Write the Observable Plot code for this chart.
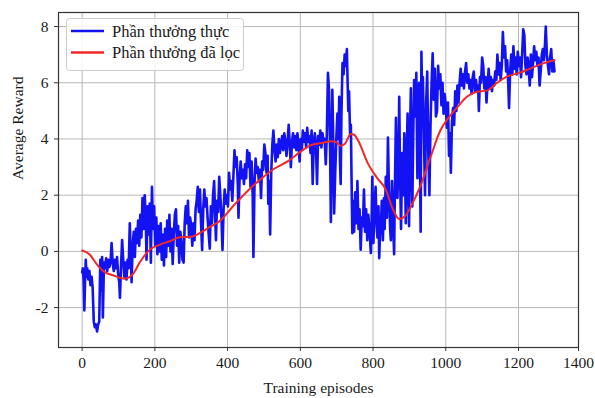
<!DOCTYPE html>
<html>
<head>
<meta charset="utf-8">
<script src="https://cdn.jsdelivr.net/npm/d3@7"></script>
<script src="https://cdn.jsdelivr.net/npm/@observablehq/plot@0.6"></script>
<style>
  html, body { margin: 0; padding: 0; background: white; }
</style>
</head>
<body>
<div id="chart"></div>
<script>
// ---- Data ----
const episodes = [
0,2,4,6,8,10,12,14,17,20,23,26,29,32,35,38,41,44,47,50,53,55,57,60,63,66,69,72,75,78,81,84,87,90,93,96,99,102,104,107,110,113,116,119,122,125,128,131,134,136,139,142,145,148,151,
154,157,160,163,166,169,172,175,177,180,183,186,189,192,195,198,201,204,207,210,213,216,219,222,225,228,231,234,237,240,243,246,249,252,255,258,261,264,267,270,
273,276,279,282,285,288,291,294,297,300,303,306,309,312,315,318,321,324,327,330,333,336,339,342,345,348,351,354,357,360,363,366,368,371,374,377,380,383,386,389,392,395,398,401,
404,407,410,413,416,419,422,425,428,430,433,436,439,442,445,448,451,454,457,460,463,466,469,471,474,477,480,483,486,489,492,495,498,501,504,507,510,512,515,517,520,523,526,529,532,535,538,541,544,547,550,553,556,559,562,565,568,571,574,577,580,583,586,589,592,595,598,601,
604,607,610,613,616,619,622,625,628,631,634,637,640,643,646,649,652,655,658,661,664,667,670,673,676,679,682,684,686,688,690,693,696,699,702,705,707,709,711,713,716,719,722,725,728,730,732,734,737,739,741,743,745,748,751,754,757,760,763,766,769,772,775,778,781,784,787,790,794,796,798,801,804,807,810,812,815,817,819,821,824,827,830,832,835,838,841,844,847,849,852,855,858,860,863,865,867,870,872,874,877,880,883,886,888,890,893,895,897,899,902,904,906,908,911,913,916,919,922,925,927,929,931,933,935,937,940,943,946,949,952,955,958,961,964,967,970,973,976,979,982,985,988,991,994,997,1000,
1003,1006,1009,1012,1014,1017,1020,1023,1026,1029,1032,1035,1038,1041,1044,1047,1050,1053,1056,1059,1062,1065,1068,1071,1074,1077,1080,1083,1086,1089,1091,1094,1097,1100,1103,1106,1109,1112,1115,1118,1121,1124,1127,1130,1133,1136,1139,1142,1145,1148,1151,1154,1157,1160,1163,1166,1169,1172,1174,1177,1180,1183,1186,1189,1192,1195,1198,1201,1204,1207,1210,1213,1216,1219,1222,1225,1228,1231,1234,1237,1240,1243,1246,1249,1252,1255,1258,1261,1264,1267,1270,1273,1275,1278,1281,1284,1287,1290,1293,1296,1299
];
const reward = [
-0.75,-0.6,-1.0,-2.1,-1.1,-0.3,-0.9,-0.6,-1.0,-0.7,-1.2,-0.9,-1.3,-2.5,-2.7,-2.6,-2.85,-2.6,-2.5,-0.3,-1.4,-0.2,-2.35,-0.4,-0.6,-0.25,-0.7,-0.3,-0.55,-0.4,0.3,-0.4,-0.7,-0.3,-0.6,-0.2,-0.8,-1.1,-1.65,-0.5,0.4,-0.3,-0.9,-0.4,-1.0,-0.3,-0.6,1.0,-0.2,-1.1,0.2,0.7,-0.2,0.8,0.3,
1.1,0.2,1.3,0.5,1.9,0.8,2.0,1.2,-0.3,1.6,0.6,1.7,-0.4,2.3,0.8,1.6,0.2,1.2,-0.1,0.9,0.0,1.0,-0.3,0.6,-0.5,0.8,-0.2,1.1,0.2,1.3,0.0,0.8,-0.45,0.6,1.3,1.5,0.2,0.9,-0.4,0.7,
0.4,-0.3,-0.4,1.0,1.6,1.0,1.8,0.5,1.2,0.9,0.2,1.0,0.4,1.5,1.8,2.3,1.4,2.2,1.0,0.05,1.5,2.2,1.6,1.9,1.2,0.6,0.1,1.6,1.0,2.0,2.5,1.2,0.4,1.8,1.4,2.65,2.0,1.2,0.05,1.5,2.2,1.7,2.0,1.6,
2.8,2.2,2.5,1.8,2.7,3.6,3.0,3.35,2.4,1.2,2.6,3.2,2.6,2.9,2.4,3.1,2.6,3.6,3.0,3.5,2.3,3.2,2.0,-0.2,2.4,3.3,2.8,3.0,2.5,2.9,1.9,3.2,2.9,3.8,3.5,2.8,3.4,1.7,2.5,0.6,2.8,3.8,4.3,3.6,3.2,3.8,3.35,4.0,3.5,3.8,4.1,3.6,4.2,3.9,3.4,3.9,4.5,3.8,3.0,3.9,4.2,3.7,4.1,3.6,4.2,3.8,3.2,4.0,
3.6,4.3,3.9,4.2,3.7,4.4,3.9,4.1,3.5,4.3,2.4,3.9,4.2,3.7,2.4,4.1,3.8,4.3,3.7,4.2,3.9,4.0,3.1,4.2,6.35,5.7,3.5,1.05,3.0,5.75,4.4,1.35,2.8,4.0,4.9,4.0,5.5,3.2,2.4,4.8,6.7,6.3,7.0,6.6,7.2,6.05,5.0,5.7,4.1,4.5,2.5,0.65,1.8,0.7,2.1,1.0,2.5,0.8,1.5,0.06,1.2,0.9,2.2,0.7,1.5,0.4,1.3,0.8,-0.06,1.0,2.65,0.3,1.6,2.3,0.9,0.5,1.6,-0.24,0.6,0.65,1.8,0.4,1.9,0.8,2.65,1.2,4.05,2.0,0.8,0.4,2.5,1.0,-0.1,2.2,4.75,3.0,1.9,3.2,5.5,3.0,0.8,3.5,2.0,4.2,2.8,1.0,3.7,4.9,2.4,0.9,4.4,5.8,3.0,1.6,4.5,6.1,4.8,6.35,2.6,5.8,6.0,3.2,0.7,7.1,5.5,6.2,4.0,2.0,5.3,6.4,3.5,2.0,4.5,6.0,7.05,5.4,6.5,4.8,5.0,6.6,5.8,6.3,5.2,6.0,4.9,5.6,5.2,
4.4,5.3,3.4,4.2,2.8,4.6,5.1,4.5,5.7,5.0,5.9,5.3,6.0,6.5,5.9,6.3,5.8,6.4,6.7,6.0,6.3,5.8,6.1,5.6,6.2,6.4,5.7,6.1,5.7,5.9,5.0,6.2,6.0,6.9,6.6,5.8,6.2,5.3,6.0,6.5,5.8,6.2,5.7,6.1,5.9,6.4,6.1,7.0,6.3,6.7,6.1,6.6,7.8,6.9,7.3,6.4,6.8,5.9,5.1,6.4,7.0,6.3,7.3,6.5,6.9,6.3,7.1,6.6,6.9,6.2,7.0,7.9,7.7,6.6,6.3,6.9,6.5,5.9,7.0,6.2,6.7,7.3,6.8,7.1,6.6,6.9,5.9,6.4,7.0,7.2,6.8,7.4,8.0,7.0,6.6,6.3,6.9,7.2,6.4,6.8,6.4
];
const smoothEp = [0,20,40,60,85,117,140,159,186,214,241,268,300,345,382,418,455,492,528,565,601,629,660,684,700,710,722,739,748,760,785,812,835,853,872,890,904,931,958,985,1008,1031,1058,1086,1113,1141,1168,1205,1240,1270,1299];
const smoothReward = [0.03,-0.1,-0.45,-0.72,-0.85,-0.97,-0.8,-0.38,0.06,0.24,0.36,0.5,0.52,0.82,1.12,1.65,2.15,2.58,2.94,3.2,3.55,3.78,3.86,3.92,3.88,3.76,3.82,4.18,4.15,3.92,3.15,2.6,2.2,1.55,1.15,1.28,1.6,2.35,3.35,4.3,4.76,5.12,5.5,5.68,5.72,6.0,6.22,6.36,6.55,6.7,6.8];

const xGridTicks = [0, 200, 400, 600, 800, 1000, 1200];
const xTickPositions = [0, 200, 400, 600, 800, 1000, 1200, 1365];
const xTickLabels = ["0", "200", "400", "600", "800", "1000", "1200", "1400"];
const yTicks = [-2, 0, 2, 4, 6, 8];
const yTickLabels = ["-2", "0", "2", "4", "6", "8"];
const seriesNames = ["Phần thưởng thực", "Phần thưởng đã lọc"];
const seriesColors = ["#1212f2", "#f02828"];
const xLabel = "Training episodes";
const yLabel = "Average Reward";

const raw = episodes.map((e, i) => ({ep: e, r: reward[i]}));
const smooth = smoothEp.map((e, i) => ({ep: e, r: smoothReward[i]}));

const chart = Plot.plot({
  width: 595,
  height: 398,
  marginTop: 12,
  marginRight: 17,
  marginBottom: 51,
  marginLeft: 58,
  style: {fontFamily: "'Liberation Serif', 'DejaVu Serif', serif", fontSize: "15px", background: "white", color: "#1a1a1a", overflow: "visible"},
  x: {domain: [-65, 1365]},
  y: {domain: [-3.42, 8.5]},
  marks: [
    Plot.gridX(xGridTicks, {stroke: "#b8b8b8", strokeOpacity: 1, strokeWidth: 1}),
    Plot.gridY(yTicks, {stroke: "#b8b8b8", strokeOpacity: 1, strokeWidth: 1}),
    Plot.line(raw, {x: "ep", y: "r", stroke: seriesColors[0], strokeWidth: 2.6}),
    Plot.line(smooth, {x: "ep", y: "r", stroke: seriesColors[1], strokeWidth: 2, curve: "monotone-x"}),
    Plot.frame({stroke: "#333", strokeWidth: 1.2}),
    Plot.axisX(xTickPositions, {tickFormat: (d, i) => xTickLabels[i], tickSize: 4, tickPadding: 5, label: null, stroke: "#333", fontSize: 15.5}),
    Plot.axisY(yTicks, {tickFormat: (d, i) => yTickLabels[i], tickSize: 4, tickPadding: 6, label: null, stroke: "#333", fontSize: 15.5}),
    Plot.text([xLabel], {text: d => d, frameAnchor: "bottom", dy: 34, lineAnchor: "top", fontSize: 15.5}),
    Plot.text([yLabel], {text: d => d, frameAnchor: "left", dx: -40, rotate: -90, fontSize: 15.5})
  ]
});

// Legend inside plot (pixel layout)
const svg = d3.select(chart);
const lg = svg.append("g").attr("font-family", "'Liberation Serif', serif").attr("font-size", 16.5).attr("text-anchor", "start");
lg.append("rect").attr("x", 66.5).attr("y", 18.5).attr("width", 177).attr("height", 52).attr("rx", 3)
  .attr("fill", "white").attr("fill-opacity", 0.85).attr("stroke", "#cccccc");
seriesNames.forEach((name, i) => {
  const yy = 31 + i * 21.5;
  lg.append("line").attr("x1", 71).attr("x2", 104).attr("y1", yy).attr("y2", yy)
    .attr("stroke", seriesColors[i]).attr("stroke-width", 2.5);
  lg.append("text").attr("x", 112).attr("y", yy).attr("dy", "0.35em").attr("text-anchor", "start").attr("fill", "#1a1a1a").text(name);
});

document.getElementById("chart").appendChild(chart);
</script>
</body>
</html>
